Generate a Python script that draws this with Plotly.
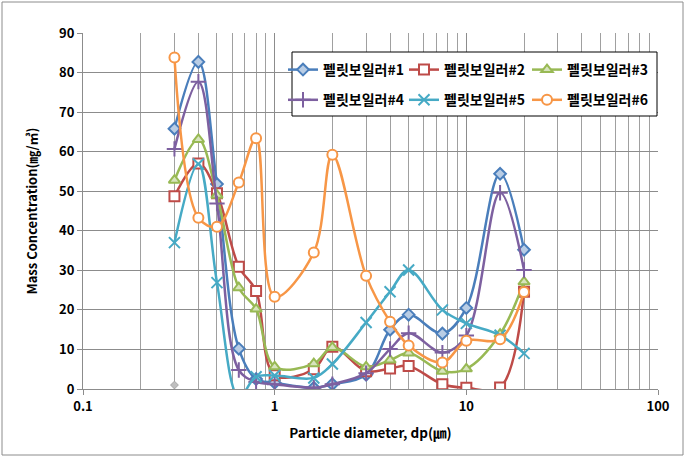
import plotly.graph_objects as go

x_dp = [0.3, 0.4, 0.5, 0.65, 0.8, 1.0, 1.6, 2.0, 3.0, 4.0, 5.0, 7.5, 10.0, 15.0, 20.0]

names = ["펠릿보일러#1", "펠릿보일러#2", "펠릿보일러#3", "펠릿보일러#4", "펠릿보일러#5", "펠릿보일러#6"]

s1 = [65.8, 82.7, 51.8, 10.2, 2.5, 1.6, 0.3, 1.2, 3.6, 15.0, 18.8, 14.0, 20.5, 54.4, 35.2]
s2 = [48.7, 57.0, 49.5, 30.9, 24.8, 3.5, 5.0, 10.7, 4.5, 5.2, 5.8, 1.2, 0.3, 0.4, 24.6]
s3 = [52.8, 63.1, 49.0, 25.6, 20.2, 5.6, 6.4, 10.5, 5.6, 7.3, 9.1, 4.5, 5.1, 13.9, 27.1]
s4 = [60.7, 77.7, 46.9, 4.8, 1.8, 1.2, 0.3, 1.2, 4.0, 10.1, 14.1, 9.2, 13.5, 49.6, 30.1]
s5 = [37.0, 56.9, 26.9, -2.0, 3.1, 3.4, 2.8, 6.3, 16.8, 24.6, 30.1, 20.0, 16.6, 13.6, 9.0]
s6 = [83.8, 43.3, 41.0, 52.2, 63.4, 23.3, 34.5, 59.2, 28.6, 17.0, 11.0, 6.7, 12.2, 12.6, 24.5]

extra_x = [0.3]
extra_y = [1.0]

series = [s1, s2, s3, s4, s5, s6]
line_colors = ["#4A7EBB", "#BE4B48", "#98B954", "#7D60A0", "#46AAC5", "#F79646"]
fill_colors = ["#B9CDE5", "#FFFFFF", "#D7E4BD", "#7D60A0", "#46AAC5", "#FFFFFF"]
symbols = ["diamond", "square", "triangle-up", "cross-thin", "x-thin", "circle"]
sizes = [9, 10, 10, 11, 11, 10]
legend_ids = ["legend", "legend2", "legend3", "legend", "legend2", "legend3"]

font_family = "Noto Sans CJK KR"

L, R, T, B = 83, 28, 33, 70
W, H = 686, 459
pw, ph = W - L - R, H - T - B


def px_x(p):
    return (p - L) / pw


def px_y(p):
    return (H - B - p) / ph


fig = go.Figure()
for i, (name, ys, lc, fc, sym, sz, lg) in enumerate(
        zip(names, series, line_colors, fill_colors, symbols, sizes, legend_ids)):
    fig.add_trace(go.Scatter(
        x=x_dp, y=ys, name=name, mode="lines+markers",
        legend=lg, legendgroup="g%d" % i,
        line=dict(color=lc, width=2.5, shape="spline", smoothing=1.0),
        marker=dict(symbol=sym, size=sz, color=fc, line=dict(color=lc, width=2)),
    ))

fig.add_trace(go.Scatter(
    x=extra_x, y=extra_y, mode="markers", showlegend=False,
    marker=dict(symbol="diamond", size=6, color="#BFBFBF", line=dict(color="#A6A6A6", width=1)),
))

# outer chart border
fig.add_shape(type="rect", xref="paper", yref="paper",
              x0=px_x(2), x1=px_x(683), y0=px_y(455), y1=px_y(2),
              line=dict(color="#8C8C8C", width=1), fillcolor="rgba(0,0,0,0)", layer="below")
# legend box
fig.add_shape(type="rect", xref="paper", yref="paper",
              x0=px_x(292), x1=px_x(657), y0=px_y(116), y1=px_y(52),
              line=dict(color="#000000", width=1), fillcolor="white", layer="above")

leg_common = dict(
    orientation="v", yanchor="top", y=px_y(54), xanchor="left",
    bgcolor="rgba(0,0,0,0)", borderwidth=0,
    font=dict(family=font_family, size=14, weight="bold"),
    itemwidth=30, tracegroupgap=9,
)

fig.update_layout(
    width=W, height=H,
    margin=dict(l=L, r=R, t=T, b=B),
    paper_bgcolor="white", plot_bgcolor="white",
    font=dict(family=font_family, size=13, color="#000000", weight="bold"),
    showlegend=True,
    legend=dict(x=px_x(283), **leg_common),
    legend2=dict(x=px_x(404), **leg_common),
    legend3=dict(x=px_x(527), **leg_common),
    xaxis=dict(
        type="log", range=[-1, 2],
        tickvals=[0.1, 1, 10, 100], ticktext=["0.1", "1", "10", "100"],
        showgrid=True, gridcolor="#8C8C8C", gridwidth=1,
        minor=dict(dtick="D1", showgrid=True, gridcolor="#A0A0A0", gridwidth=1, ticks=""),
        showline=True, linecolor="#8C8C8C", linewidth=1,
        ticks="outside", ticklen=5, tickcolor="#8C8C8C",
        tickfont=dict(size=13, weight="bold"),
        title=dict(text="Particle diameter, dp(㎛)", font=dict(size=13.5, weight="bold"), standoff=14),
        zeroline=False,
    ),
    yaxis=dict(
        range=[0, 90], dtick=10,
        showgrid=True, gridcolor="#8C8C8C", gridwidth=1,
        showline=True, linecolor="#8C8C8C", linewidth=1,
        ticks="outside", ticklen=5, tickcolor="#8C8C8C",
        tickfont=dict(size=13, weight="bold"),
        title=dict(text="Mass Concentration(㎎/㎥)", font=dict(size=13, weight="bold"), standoff=18),
        zeroline=False,
    ),
)

fig.write_html("out.html")
